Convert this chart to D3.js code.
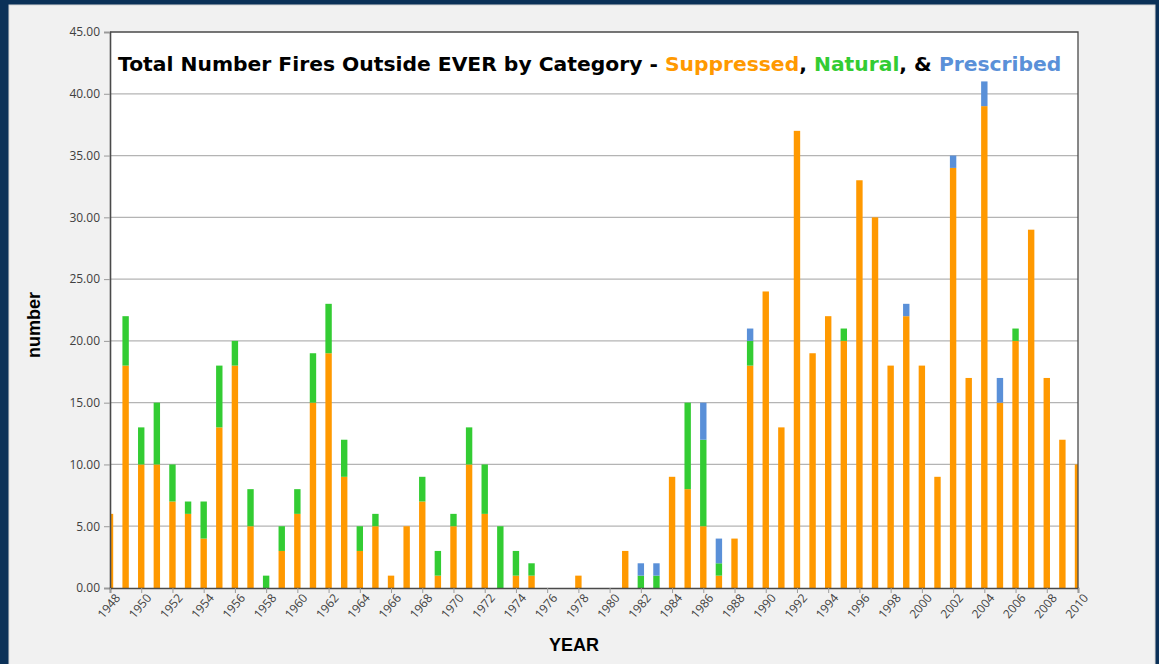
<!DOCTYPE html>
<html>
<head>
<meta charset="utf-8">
<script src="https://cdn.jsdelivr.net/npm/d3@7"></script>
<style>
  html, body { margin: 0; padding: 0; background: #0b3158; }
  svg { display: block; }
</style>
</head>
<body>
<svg width="1159" height="664" class="chart"></svg>
<script>
// one entry per year, 1948..2010
var years = d3.range(1948, 2011);
var suppressed = [6,18,10,10,7,6,4,13,18,5,0,3,6,15,19,9,3,5,1,5,7,1,5,10,6,0,1,1,0,0,1,0,0,3,0,0,9,8,5,1,4,18,24,13,37,19,22,20,33,30,18,22,18,9,34,17,39,15,20,29,17,12,10];
var natural    = [0,4,3,5,3,1,3,5,2,3,1,2,2,4,4,3,2,1,0,0,2,2,1,3,4,5,2,1,0,0,0,0,0,0,1,1,0,7,7,1,0,2,0,0,0,0,0,1,0,0,0,0,0,0,0,0,0,0,1,0,0,0,0];
var prescribed = [0,0,0,0,0,0,0,0,0,0,0,0,0,0,0,0,0,0,0,0,0,0,0,0,0,0,0,0,0,0,0,0,0,0,1,1,0,0,3,2,0,1,0,0,0,0,0,0,0,0,0,1,0,0,1,0,2,2,0,0,0,0,0];
var yTicks = [0,5,10,15,20,25,30,35,40,45];
var xTicks = d3.range(1948, 2011, 2);

var categories = ["Suppressed", "Natural", "Prescribed"];
var colors = {Suppressed: "#ff9900", Natural: "#33cc33", Prescribed: "#5a90d8"};

var table = years.map(function(y, i) {
  return {year: y, Suppressed: suppressed[i], Natural: natural[i], Prescribed: prescribed[i]};
});

var svg = d3.select(".chart"),
  margin = {top: 32, right: 81, bottom: 76, left: 110},
  width = svg.attr("width") - margin.left - margin.right,
  height = svg.attr("height") - margin.top - margin.bottom;

// frame
svg.append("rect")
  .attr("x", 9).attr("y", 5).attr("width", 1146).attr("height", 664)
  .attr("fill", "#f1f1f1").attr("stroke", "#d8d8d8");

var x = d3.scaleLinear().domain([1948, 2010]).range([0, width]);
var y = d3.scaleLinear().domain([0, 45]).range([height, 0]);

var g = svg.append("g")
  .attr("transform", "translate(" + margin.left + "," + margin.top + ")");

g.append("rect")
  .attr("width", width).attr("height", height)
  .attr("fill", "#fff");

g.append("clipPath").attr("id", "plot")
  .append("rect").attr("width", width).attr("height", height);

// gridlines
g.append("g")
  .selectAll("line")
  .data(yTicks.filter(function(d) { return d > 0 && d < 45; }))
  .enter().append("line")
  .attr("x1", 0).attr("x2", width)
  .attr("y1", function(d) { return y(d); })
  .attr("y2", function(d) { return y(d); })
  .attr("stroke", "#b4b4b4")
  .attr("stroke-width", 1.2);

// stacked bars
var series = d3.stack().keys(categories)(table);
g.append("g")
  .attr("clip-path", "url(#plot)")
  .selectAll("g")
  .data(series)
  .enter().append("g")
  .attr("fill", function(d) { return colors[d.key]; })
  .selectAll("rect")
  .data(function(d) { return d; })
  .enter().append("rect")
  .filter(function(d) { return d[1] > d[0]; })
  .attr("x", function(d) { return x(d.data.year) - 3.2; })
  .attr("width", 6.4)
  .attr("y", function(d) { return y(d[1]); })
  .attr("height", function(d) { return y(d[0]) - y(d[1]); });

// plot border top/right
g.append("path")
  .attr("d", "M0,0H" + width + "V" + height)
  .attr("fill", "none")
  .attr("stroke", "#4a4a4a")
  .attr("stroke-width", 1.3);

// axes
var yAxis = g.append("g")
  .attr("class", "y axis")
  .call(d3.axisLeft(y).tickValues(yTicks).tickFormat(d3.format(".2f")).tickSize(6).tickPadding(4));

var xAxis = g.append("g")
  .attr("class", "x axis")
  .attr("transform", "translate(0," + height + ")")
  .call(d3.axisBottom(x).tickValues(xTicks).tickFormat(d3.format("d")).tickSize(5).tickPadding(3));

g.selectAll(".axis path").attr("stroke", "#4a4a4a").attr("stroke-width", 1.6);
g.selectAll(".axis line").attr("stroke", "#9a9a9a");
g.selectAll(".axis text")
  .attr("fill", "#404040")
  .style("font-family", "'Open Sans', sans-serif")
  .style("font-size", "12px");

xAxis.selectAll("text")
  .attr("text-anchor", "end")
  .attr("dx", "-0.1em")
  .attr("dy", "0.55em")
  .attr("transform", "rotate(-50)");

// title
var title = g.append("text")
  .attr("x", 8).attr("y", 39)
  .style("font-family", "'DejaVu Sans', sans-serif")
  .style("font-weight", "bold")
  .style("font-size", "20.3px")
  .attr("fill", "#000");
title.append("tspan").text("Total Number Fires Outside EVER by Category - ");
title.append("tspan").attr("fill", colors.Suppressed).text("Suppressed");
title.append("tspan").text(", ");
title.append("tspan").attr("fill", colors.Natural).text("Natural");
title.append("tspan").text(", & ");
title.append("tspan").attr("fill", colors.Prescribed).text("Prescribed");

// axis titles
svg.append("text")
  .attr("transform", "translate(40,325) rotate(-90)")
  .attr("text-anchor", "middle")
  .style("font-family", "'Liberation Sans', Arial, sans-serif")
  .style("font-weight", "bold")
  .style("font-size", "18px")
  .text("number");

svg.append("text")
  .attr("x", 574).attr("y", 651)
  .attr("text-anchor", "middle")
  .style("font-family", "'Liberation Sans', Arial, sans-serif")
  .style("font-weight", "bold")
  .style("font-size", "18px")
  .text("YEAR");
</script>
</body>
</html>
